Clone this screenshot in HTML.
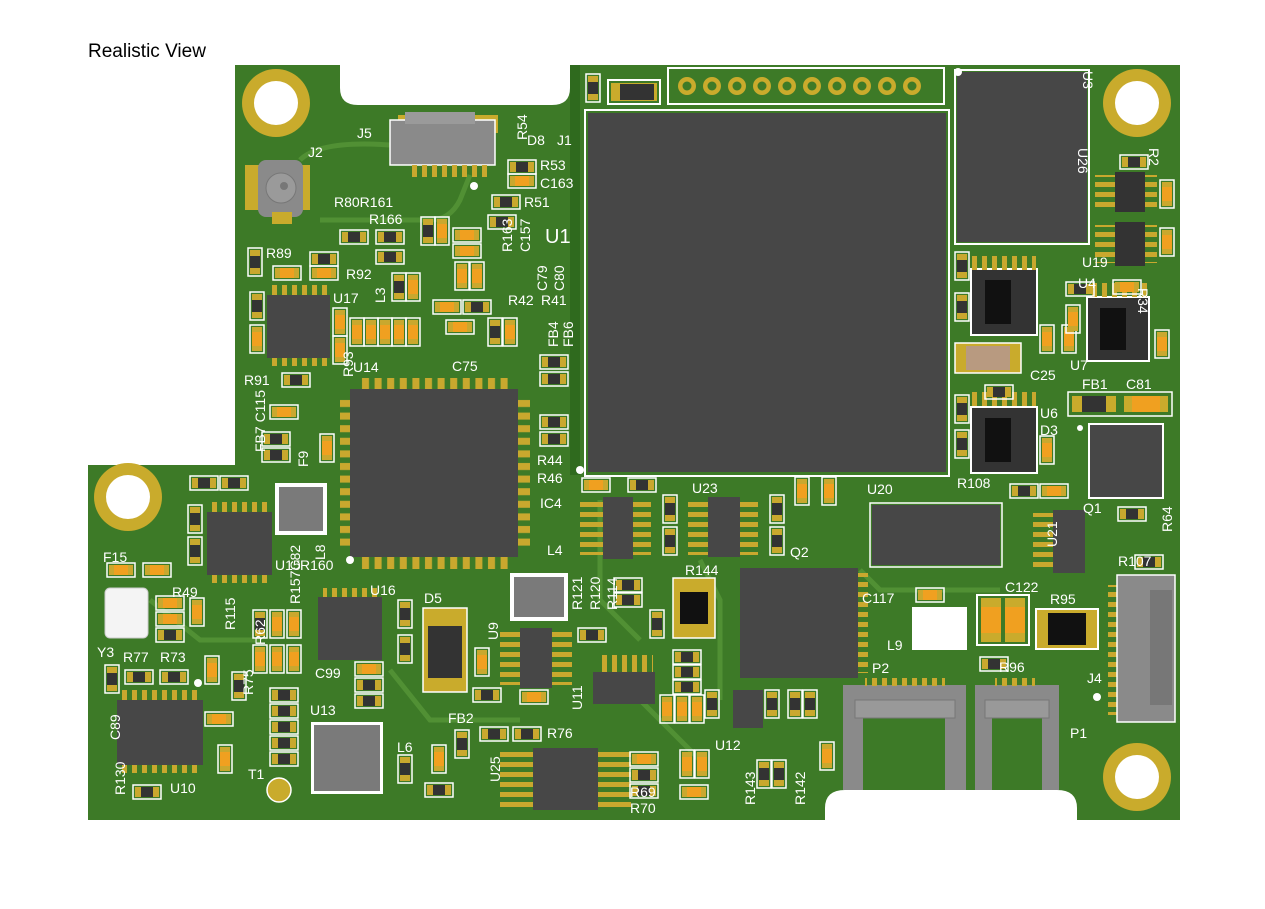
<!DOCTYPE html>
<html><head><meta charset="utf-8"><style>
html,body{margin:0;padding:0;background:#fff;width:1265px;height:909px;overflow:hidden}
svg{display:block}
text{font-family:"Liberation Sans",sans-serif;fill:#fff;font-size:14px}
</style></head><body>
<svg width="1265" height="909" viewBox="0 0 1265 909">
<defs>
<pattern id="ph" x="360" y="0" width="12.6" height="20" patternUnits="userSpaceOnUse"><rect x="2" y="0" width="7" height="20" fill="#c9a82e"/></pattern>
<pattern id="pv" x="0" y="398" width="20" height="12.6" patternUnits="userSpaceOnUse"><rect x="0" y="2" width="20" height="7" fill="#c9a82e"/></pattern>
<pattern id="ph2" x="0" y="0" width="10" height="20" patternUnits="userSpaceOnUse"><rect x="2" y="0" width="5" height="20" fill="#c9a82e"/></pattern>
<pattern id="pv2" x="0" y="0" width="20" height="10" patternUnits="userSpaceOnUse"><rect x="0" y="2" width="20" height="5" fill="#c9a82e"/></pattern>
<g id="r"><rect x="0" y="0" width="28" height="14" fill="none" stroke="#fff" stroke-width="1.5"/><rect x="2" y="2" width="24" height="10" fill="#c9a82e"/><rect x="8" y="2" width="12" height="10" fill="#333"/></g>
<g id="c"><rect x="0" y="0" width="28" height="14" fill="none" stroke="#fff" stroke-width="1.5"/><rect x="2" y="2" width="24" height="10" fill="#c9a82e"/><rect x="7" y="2" width="14" height="10" fill="#f0a020"/></g>
<g id="rv"><rect x="0" y="0" width="14" height="28" fill="none" stroke="#fff" stroke-width="1.5"/><rect x="2" y="2" width="10" height="24" fill="#c9a82e"/><rect x="2" y="8" width="10" height="12" fill="#333"/></g>
<g id="cv"><rect x="0" y="0" width="14" height="28" fill="none" stroke="#fff" stroke-width="1.5"/><rect x="2" y="2" width="10" height="24" fill="#c9a82e"/><rect x="2" y="7" width="10" height="14" fill="#f0a020"/></g>
</defs>
<text x="88" y="57" style="fill:#000;font-size:19px">Realistic View</text>
<!-- board -->
<path d="M235 65 H340 V88 Q340 105 358 105 H552 Q570 105 570 88 V65 H1180 V820 H1077 V808 Q1077 790 1057 790 H845 Q825 790 825 808 V820 H88 V465 H235 Z" fill="#3d7a27"/>
<rect x="570" y="65" width="10" height="410" fill="#2f6a1e"/>
<!-- lighter traces -->
<g stroke="#5a9a3a" stroke-width="5" fill="none" opacity="0.7">
<path d="M300 160 Q320 140 390 145 M320 220 H430 Q450 220 460 200 L470 175"/>
<path d="M600 500 V600 L640 640 M700 560 L720 600 V700 M860 570 L880 590 H1000"/>
<path d="M150 600 L200 640 H260 M390 670 L430 720 H520 M640 700 L700 760"/>
</g>
<!-- mounting holes -->
<g fill="#c9ab2c"><circle cx="276" cy="103" r="34"/><circle cx="1137" cy="103" r="34"/><circle cx="128" cy="497" r="34"/><circle cx="1137" cy="777" r="34"/></g>
<g fill="#fff"><circle cx="276" cy="103" r="22"/><circle cx="1137" cy="103" r="22"/><circle cx="128" cy="497" r="22"/><circle cx="1137" cy="777" r="22"/></g>
<!-- U1 -->
<rect x="585" y="110" width="364" height="366" fill="none" stroke="#fff" stroke-width="2"/>
<rect x="588" y="113" width="358" height="359" fill="#474747"/>
<!-- top header -->
<rect x="668" y="68" width="276" height="36" fill="none" stroke="#fff" stroke-width="2"/>
<g fill="#c9ab2c"><circle cx="687" cy="86" r="9"/><circle cx="712" cy="86" r="9"/><circle cx="737" cy="86" r="9"/><circle cx="762" cy="86" r="9"/><circle cx="787" cy="86" r="9"/><circle cx="812" cy="86" r="9"/><circle cx="837" cy="86" r="9"/><circle cx="862" cy="86" r="9"/><circle cx="887" cy="86" r="9"/><circle cx="912" cy="86" r="9"/></g>
<g fill="#3d7a27"><circle cx="687" cy="86" r="4.5"/><circle cx="712" cy="86" r="4.5"/><circle cx="737" cy="86" r="4.5"/><circle cx="762" cy="86" r="4.5"/><circle cx="787" cy="86" r="4.5"/><circle cx="812" cy="86" r="4.5"/><circle cx="837" cy="86" r="4.5"/><circle cx="862" cy="86" r="4.5"/><circle cx="887" cy="86" r="4.5"/><circle cx="912" cy="86" r="4.5"/></g>
<rect x="608" y="80" width="52" height="24" fill="none" stroke="#fff" stroke-width="2"/><rect x="611" y="83" width="46" height="18" fill="#c9ab2c"/><rect x="620" y="84" width="34" height="16" fill="#333"/>
<use href="#rv" x="586" y="74"/>
<!-- U3 -->
<rect x="955" y="70" width="134" height="174" fill="none" stroke="#fff" stroke-width="2"/>
<rect x="957" y="72" width="130" height="170" fill="#474747"/>
<!-- J5 -->
<rect x="398" y="115" width="100" height="18" fill="#c9ab2c"/>
<rect x="390" y="120" width="105" height="45" fill="#8a8a8a" stroke="#fff" stroke-width="1.5"/>
<rect x="405" y="112" width="70" height="12" fill="#9a9a9a"/>
<rect x="412" y="165" width="80" height="12" fill="url(#ph2)"/>
<!-- J2 -->
<rect x="245" y="165" width="65" height="45" fill="#c9ab2c"/>
<rect x="258" y="160" width="45" height="57" rx="8" fill="#8a8a8a"/>
<circle cx="281" cy="188" r="15" fill="#9a9a9a" stroke="#777"/><circle cx="284" cy="186" r="4" fill="#777"/>
<rect x="272" y="212" width="20" height="12" fill="#c9ab2c"/>
<!-- U17 -->
<rect x="267" y="295" width="63" height="63" fill="#474747"/>
<rect x="272" y="285" width="55" height="10" fill="url(#ph2)"/><rect x="272" y="358" width="55" height="8" fill="url(#ph2)"/>
<!-- U14 -->
<rect x="360" y="378" width="152" height="12" fill="url(#ph)"/>
<rect x="360" y="557" width="152" height="12" fill="url(#ph)"/>
<rect x="340" y="398" width="12" height="152" fill="url(#pv)"/>
<rect x="518" y="398" width="12" height="152" fill="url(#pv)"/>
<rect x="350" y="389" width="168" height="168" fill="#474747"/>
<!-- U15 -->
<rect x="207" y="512" width="65" height="63" fill="#474747"/>
<rect x="212" y="502" width="55" height="10" fill="url(#ph2)"/><rect x="212" y="575" width="55" height="8" fill="url(#ph2)"/>
<!-- L8 -->
<rect x="275" y="483" width="52" height="52" fill="#fff"/><rect x="279" y="487" width="44" height="44" fill="#7a7a7a"/>
<!-- Y3 -->
<rect x="105" y="588" width="43" height="50" rx="5" fill="#f4f4f4" stroke="#ccc"/>
<!-- U10 -->
<rect x="117" y="700" width="86" height="65" fill="#474747"/>
<rect x="122" y="690" width="76" height="10" fill="url(#ph2)"/><rect x="122" y="765" width="76" height="8" fill="url(#ph2)"/>
<!-- U16 chip -->
<rect x="318" y="597" width="64" height="63" fill="#474747"/>
<rect x="323" y="588" width="55" height="9" fill="url(#ph2)"/>
<!-- U13 -->
<rect x="311" y="722" width="72" height="72" fill="#fff"/><rect x="314" y="725" width="66" height="66" fill="#7a7a7a"/>
<!-- D5 -->
<rect x="423" y="608" width="44" height="84" fill="#c9ab2c" stroke="#fff" stroke-width="1.5"/><rect x="428" y="626" width="34" height="52" fill="#333"/>
<!-- L4 -->
<rect x="510" y="573" width="58" height="48" fill="#fff"/><rect x="514" y="577" width="50" height="40" fill="#7a7a7a"/>
<!-- U9 -->
<rect x="520" y="628" width="32" height="60" fill="#474747"/>
<rect x="500" y="630" width="20" height="55" fill="url(#pv2)"/><rect x="552" y="630" width="20" height="55" fill="url(#pv2)"/>
<!-- U11 -->
<rect x="593" y="672" width="62" height="32" fill="#474747"/>
<rect x="598" y="655" width="55" height="17" fill="url(#ph2)"/>
<!-- R144 -->
<rect x="673" y="578" width="42" height="60" fill="#c9ab2c" stroke="#fff" stroke-width="1.5"/><rect x="680" y="592" width="28" height="32" fill="#111"/>
<!-- U25 -->
<rect x="533" y="748" width="65" height="62" fill="#474747"/>
<rect x="500" y="752" width="33" height="56" fill="url(#pv2)"/><rect x="598" y="752" width="33" height="56" fill="url(#pv2)"/>
<!-- IC4 / U23 -->
<rect x="603" y="497" width="30" height="62" fill="#474747"/><rect x="580" y="500" width="23" height="55" fill="url(#pv2)"/><rect x="633" y="500" width="18" height="55" fill="url(#pv2)"/>
<rect x="708" y="497" width="32" height="60" fill="#474747"/><rect x="688" y="500" width="20" height="55" fill="url(#pv2)"/><rect x="740" y="500" width="18" height="55" fill="url(#pv2)"/>
<!-- Q2 -->
<rect x="740" y="568" width="118" height="110" fill="#474747"/>
<rect x="858" y="573" width="10" height="100" fill="url(#pv2)"/>
<!-- U20 -->
<rect x="870" y="503" width="132" height="64" fill="none" stroke="#fff" stroke-width="1.5"/>
<rect x="872" y="505" width="128" height="60" fill="#474747"/>
<!-- U12 -->
<rect x="733" y="690" width="30" height="38" fill="#474747"/>
<!-- U21 -->
<rect x="1053" y="510" width="32" height="63" fill="#474747"/><rect x="1033" y="513" width="20" height="56" fill="url(#pv2)"/>
<!-- U4 U7 U6 Q1 -->
<rect x="970" y="268" width="68" height="68" fill="#fff"/><rect x="972" y="270" width="64" height="64" fill="#333"/><rect x="985" y="280" width="26" height="44" fill="#111"/><rect x="972" y="256" width="64" height="14" fill="url(#ph2)"/>
<rect x="1086" y="296" width="64" height="66" fill="#fff"/><rect x="1088" y="298" width="60" height="62" fill="#333"/><rect x="1100" y="308" width="26" height="42" fill="#111"/><rect x="1088" y="283" width="60" height="14" fill="url(#ph2)"/>
<rect x="970" y="406" width="68" height="68" fill="#fff"/><rect x="972" y="408" width="64" height="64" fill="#333"/><rect x="985" y="418" width="26" height="44" fill="#111"/><rect x="972" y="392" width="64" height="14" fill="url(#ph2)"/>
<rect x="1088" y="423" width="76" height="76" fill="#fff"/><rect x="1090" y="425" width="72" height="72" fill="#474747"/>
<!-- C25 -->
<rect x="955" y="343" width="66" height="30" fill="#c9ab2c" stroke="#fff" stroke-width="1.5"/><rect x="966" y="346" width="44" height="24" fill="#b89a80"/>
<!-- FB1 C81 -->
<rect x="1068" y="392" width="104" height="24" fill="none" stroke="#fff" stroke-width="1.5"/>
<rect x="1072" y="396" width="44" height="16" fill="#c9ab2c"/><rect x="1082" y="396" width="24" height="16" fill="#333"/>
<rect x="1124" y="396" width="44" height="16" fill="#c9ab2c"/><rect x="1132" y="396" width="28" height="16" fill="#f0a020"/>
<!-- U26/U19 -->
<rect x="1115" y="172" width="30" height="40" fill="#333"/><rect x="1095" y="175" width="20" height="35" fill="url(#pv2)"/><rect x="1145" y="175" width="12" height="35" fill="url(#pv2)"/>
<rect x="1115" y="222" width="30" height="44" fill="#333"/><rect x="1095" y="225" width="20" height="38" fill="url(#pv2)"/><rect x="1145" y="225" width="12" height="38" fill="url(#pv2)"/>
<!-- L9, C122, R95 -->
<rect x="912" y="607" width="55" height="43" fill="#fff"/>
<rect x="977" y="595" width="52" height="50" fill="none" stroke="#fff" stroke-width="2"/><rect x="981" y="598" width="20" height="44" fill="#c9ab2c"/><rect x="981" y="607" width="20" height="26" fill="#f0a020"/><rect x="1005" y="598" width="20" height="44" fill="#c9ab2c"/><rect x="1005" y="607" width="20" height="26" fill="#f0a020"/>
<rect x="1036" y="609" width="62" height="40" fill="#c9ab2c" stroke="#fff" stroke-width="2"/><rect x="1048" y="613" width="38" height="32" fill="#111"/>
<!-- P2 P1 -->
<rect x="843" y="685" width="123" height="105" fill="#8a8a8a"/><rect x="863" y="718" width="82" height="72" fill="#3d7a27"/><rect x="855" y="700" width="100" height="18" fill="#999" stroke="#777"/>
<rect x="975" y="685" width="84" height="105" fill="#8a8a8a"/><rect x="992" y="718" width="50" height="72" fill="#3d7a27"/><rect x="985" y="700" width="64" height="18" fill="#999" stroke="#777"/>
<rect x="865" y="678" width="80" height="8" fill="url(#ph2)"/><rect x="995" y="678" width="40" height="8" fill="url(#ph2)"/>
<!-- J4 -->
<rect x="1108" y="585" width="10" height="130" fill="url(#pv2)"/>
<rect x="1117" y="575" width="58" height="147" fill="#8a8a8a" stroke="#fff" stroke-width="1.5"/><rect x="1150" y="590" width="22" height="115" fill="#777"/>
<!-- T1 -->
<circle cx="279" cy="790" r="12" fill="#c9ab2c" stroke="#fff" stroke-width="1.5"/>
<!-- small passives -->
<use href="#c" x="453" y="228"/><use href="#c" x="453" y="244"/><use href="#cv" x="455" y="262"/><use href="#cv" x="470" y="262"/>
<use href="#r" x="340" y="230"/><use href="#r" x="376" y="230"/><use href="#r" x="376" y="250"/><use href="#rv" x="421" y="217"/><use href="#cv" x="435" y="217"/>
<use href="#r" x="310" y="252"/><use href="#c" x="310" y="266"/><use href="#c" x="273" y="266"/><use href="#rv" x="248" y="248"/>
<use href="#rv" x="392" y="273"/><use href="#cv" x="406" y="273"/><use href="#rv" x="488" y="318"/><use href="#cv" x="503" y="318"/>
<use href="#c" x="433" y="300"/><use href="#r" x="463" y="300"/><use href="#c" x="446" y="320"/>
<g><use href="#cv" x="350" y="318"/><use href="#cv" x="364" y="318"/><use href="#cv" x="378" y="318"/><use href="#cv" x="392" y="318"/><use href="#cv" x="406" y="318"/><use href="#cv" x="333" y="308"/><use href="#cv" x="333" y="336"/></g>
<use href="#rv" x="250" y="292"/><use href="#cv" x="250" y="325"/><use href="#r" x="282" y="373"/>
<use href="#r" x="540" y="355"/><use href="#r" x="540" y="372"/><use href="#r" x="540" y="415"/><use href="#r" x="540" y="432"/>
<use href="#r" x="508" y="160"/><use href="#c" x="508" y="174"/><use href="#r" x="492" y="195"/><use href="#r" x="488" y="215"/>
<use href="#c" x="270" y="405"/><use href="#r" x="262" y="432"/><use href="#r" x="262" y="448"/><use href="#cv" x="320" y="434"/>
<use href="#r" x="190" y="476"/><use href="#r" x="220" y="476"/><use href="#rv" x="188" y="505"/><use href="#rv" x="188" y="537"/>
<use href="#c" x="107" y="563"/><use href="#c" x="143" y="563"/><use href="#c" x="156" y="596"/><use href="#c" x="156" y="612"/><use href="#r" x="156" y="628"/>
<use href="#cv" x="190" y="598"/><use href="#rv" x="253" y="610"/><use href="#cv" x="253" y="645"/><use href="#cv" x="270" y="610"/><use href="#cv" x="270" y="645"/><use href="#cv" x="287" y="610"/><use href="#cv" x="287" y="645"/>
<use href="#rv" x="105" y="665"/><use href="#r" x="125" y="670"/><use href="#r" x="160" y="670"/><use href="#cv" x="205" y="656"/><use href="#rv" x="232" y="672"/>
<use href="#c" x="205" y="712"/><use href="#cv" x="218" y="745"/><use href="#r" x="133" y="785"/>
<use href="#r" x="270" y="688"/><use href="#r" x="270" y="704"/><use href="#r" x="270" y="720"/><use href="#r" x="270" y="736"/><use href="#r" x="270" y="752"/>
<use href="#c" x="355" y="662"/><use href="#r" x="355" y="678"/><use href="#r" x="355" y="694"/><use href="#rv" x="398" y="600"/><use href="#rv" x="398" y="635"/>
<use href="#rv" x="398" y="755"/><use href="#cv" x="432" y="745"/><use href="#rv" x="455" y="730"/><use href="#r" x="425" y="783"/>
<use href="#r" x="480" y="727"/><use href="#r" x="513" y="727"/><use href="#cv" x="475" y="648"/><use href="#r" x="473" y="688"/><use href="#c" x="520" y="690"/>
<use href="#r" x="578" y="628"/><use href="#r" x="614" y="578"/><use href="#r" x="614" y="593"/><use href="#rv" x="650" y="610"/>
<use href="#r" x="673" y="650"/><use href="#r" x="673" y="665"/><use href="#r" x="673" y="680"/><use href="#cv" x="660" y="695"/><use href="#cv" x="675" y="695"/><use href="#cv" x="690" y="695"/><use href="#rv" x="705" y="690"/>
<use href="#c" x="630" y="752"/><use href="#r" x="630" y="768"/><use href="#r" x="630" y="784"/><use href="#cv" x="680" y="750"/><use href="#cv" x="695" y="750"/><use href="#c" x="680" y="785"/>
<use href="#rv" x="757" y="760"/><use href="#rv" x="772" y="760"/><use href="#cv" x="820" y="742"/><use href="#rv" x="788" y="690"/><use href="#rv" x="803" y="690"/><use href="#rv" x="765" y="690"/>
<use href="#c" x="582" y="478"/><use href="#r" x="628" y="478"/><use href="#rv" x="663" y="495"/><use href="#rv" x="663" y="527"/><use href="#rv" x="770" y="495"/><use href="#rv" x="770" y="527"/>
<use href="#cv" x="795" y="477"/><use href="#cv" x="822" y="477"/>
<use href="#c" x="916" y="588"/><use href="#r" x="980" y="657"/><use href="#r" x="1010" y="484"/><use href="#c" x="1040" y="484"/><use href="#r" x="1118" y="507"/><use href="#r" x="1135" y="555"/><use href="#cv" x="1040" y="436"/><use href="#cv" x="1040" y="325"/><use href="#cv" x="1062" y="325"/>
<use href="#rv" x="955" y="252"/><use href="#rv" x="955" y="293"/><use href="#r" x="985" y="385"/><use href="#rv" x="955" y="395"/><use href="#rv" x="955" y="430"/>
<use href="#c" x="1113" y="280"/><use href="#r" x="1066" y="282"/><use href="#cv" x="1066" y="305"/><use href="#cv" x="1155" y="330"/><use href="#r" x="1120" y="155"/><use href="#cv" x="1160" y="180"/><use href="#cv" x="1160" y="228"/>
<!-- white dots -->
<g fill="#fff"><circle cx="474" cy="186" r="4"/><circle cx="958" cy="72" r="4"/><circle cx="350" cy="560" r="4"/><circle cx="580" cy="470" r="4"/><circle cx="198" cy="683" r="4"/><circle cx="1097" cy="697" r="4"/><circle cx="1080" cy="428" r="3"/></g>
<!-- labels -->
<text x="357" y="138">J5</text><text x="308" y="157">J2</text><text x="500" y="147" transform="rotate(-90 510 130)">R54</text>
<text x="527" y="145">D8</text><text x="557" y="145">J1</text><text x="540" y="170">R53</text><text x="540" y="188">C163</text><text x="524" y="207">R51</text>
<text x="334" y="207">R80R161</text><text x="369" y="224">R166</text><text x="545" y="243" style="font-size:20px">U1</text>
<text x="490" y="260" transform="rotate(-90 497 245)">R163</text><text x="508" y="260" transform="rotate(-90 515 245)">C157</text>
<text x="516" y="290" transform="rotate(-90 532 275)">C79</text><text x="533" y="290" transform="rotate(-90 549 275)">C80</text>
<text x="266" y="258">R89</text><text x="346" y="279">R92</text><text x="333" y="303">U17</text><text x="372" y="300" transform="rotate(-90 380 295)">L3</text>
<text x="508" y="305">R42</text><text x="541" y="305">R41</text><text x="530" y="345" transform="rotate(-90 545 332)">FB4</text><text x="545" y="345" transform="rotate(-90 560 332)">FB6</text>
<text x="318" y="368" transform="rotate(-90 340 355)">R93</text><text x="353" y="372">U14</text><text x="452" y="371">C75</text><text x="244" y="385">R91</text>
<text x="218" y="435" transform="rotate(-90 250 420)">FB7 C115</text><text x="290" y="465" transform="rotate(-90 300 457)">F9</text>
<text x="537" y="465">R44</text><text x="537" y="483">R46</text><text x="540" y="508">IC4</text><text x="692" y="493">U23</text><text x="867" y="494">U20</text>
<text x="957" y="488">R108</text><text x="1083" y="513">Q1</text><text x="1145" y="535" transform="rotate(-90 1157 520)">R64</text><text x="1118" y="566">R107</text>
<text x="1030" y="550" transform="rotate(-90 1042 535)">U21</text><text x="1005" y="592">C122</text><text x="1050" y="604">R95</text><text x="999" y="672">R96</text>
<text x="862" y="603">C117</text><text x="887" y="650">L9</text><text x="872" y="673">P2</text><text x="1070" y="738">P1</text><text x="1087" y="683">J4</text>
<text x="790" y="557">Q2</text><text x="685" y="575">R144</text><text x="547" y="555">L4</text>
<text x="560" y="612" transform="rotate(-90 570 600)">R121</text><text x="578" y="612" transform="rotate(-90 588 600)">R120</text><text x="595" y="612" transform="rotate(-90 605 600)">R114</text>
<text x="478" y="640" transform="rotate(-90 488 630)">U9</text><text x="557" y="715" transform="rotate(-90 567 700)">U11</text><text x="715" y="750">U12</text>
<text x="448" y="723">FB2</text><text x="547" y="738">R76</text><text x="478" y="780" transform="rotate(-90 490 770)">U25</text><text x="630" y="797">R69</text><text x="630" y="813">R70</text>
<text x="730" y="800" transform="rotate(-90 745 790)">R143</text><text x="780" y="800" transform="rotate(-90 795 790)">R142</text>
<text x="397" y="752">L6</text><text x="424" y="603">D5</text><text x="370" y="595">U16</text><text x="300" y="570">R160</text><text x="275" y="570">U15</text><text x="300" y="555" transform="rotate(-90 315 545)">L8</text>
<text x="103" y="562">F15</text><text x="172" y="597">R49</text><text x="205" y="630" transform="rotate(-90 220 615)">R115</text><text x="240" y="640" transform="rotate(-90 255 630)">R62</text><text x="276" y="600" transform="rotate(-90 290 590)">R157C82</text>
<text x="228" y="690" transform="rotate(-90 243 680)">R75</text><text x="97" y="657">Y3</text><text x="123" y="662">R77</text><text x="160" y="662">R73</text>
<text x="315" y="678">C99</text><text x="310" y="715">U13</text><text x="95" y="735" transform="rotate(-90 110 725)">C89</text><text x="90" y="790" transform="rotate(-90 110 775)">R130</text>
<text x="170" y="793">U10</text><text x="248" y="779">T1</text>
<text x="1078" y="288">U4</text><text x="1070" y="370">U7</text><text x="1030" y="380">C25</text><text x="1082" y="389">FB1</text><text x="1126" y="389">C81</text>
<text x="1040" y="418">U6</text><text x="1040" y="435">D3</text><text x="1082" y="267">U19</text><text x="1148" y="312" transform="rotate(90 1155 295)">R34</text>
<text x="1088" y="172" transform="rotate(90 1095 155)">U26</text><text x="1155" y="168" transform="rotate(90 1162 155)">R2</text><text x="1088" y="90" transform="rotate(90 1095 78)">U3</text>
</svg>
</body></html>
